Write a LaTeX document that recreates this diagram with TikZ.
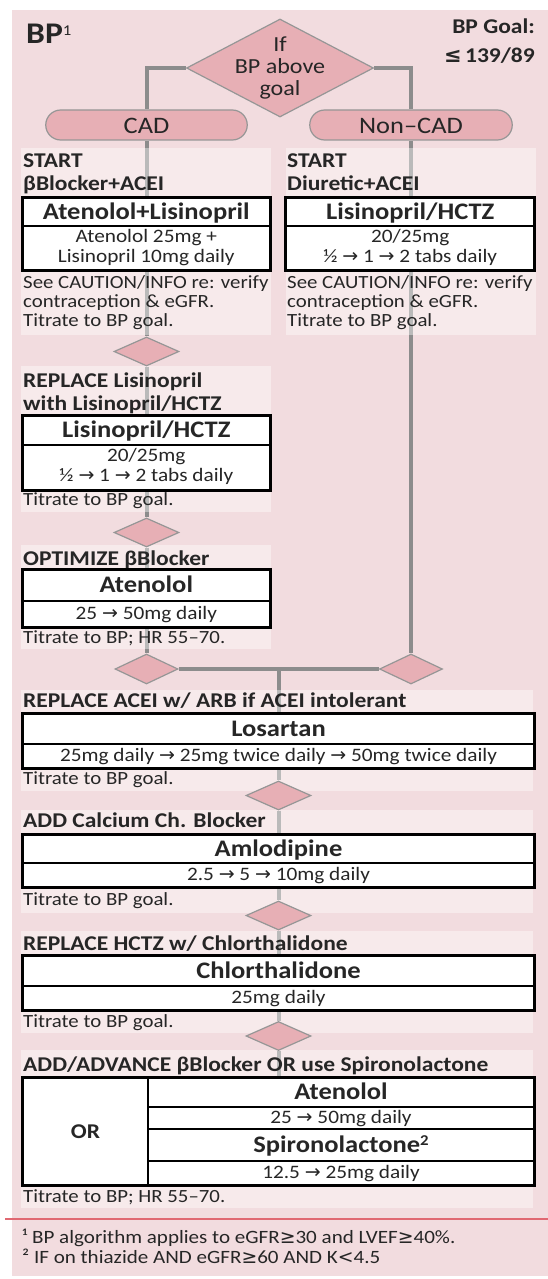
\documentclass[tikz,border=0pt]{standalone}
\usepackage{fontspec}
\setmainfont{Carlito}[FakeStretch=1.12]
\newfontfamily\symf{DejaVu Sans}
\usetikzlibrary{shapes.geometric,fit}
\newcommand{\fsz}[2]{\fontsize{#1}{#2}\selectfont}
\newcommand{\mlin}[1]{\begin{tabular}[t]{@{}l@{}}#1\end{tabular}}
\newcommand{\mcen}[1]{\begin{tabular}{@{}c@{}}#1\end{tabular}}
\newcommand{\mcentt}[1]{\begin{tabular}[t]{@{}c@{}}#1\end{tabular}}
\newcommand{\rarr}{{\symf\char"2192}}
\newcommand{\geqs}{{\symf\char"2265}}
\newcommand{\leqs}{{\symf\char"2264}}
\newcommand{\lts}{{\symf\char"003C}}
\definecolor{bgpink}{RGB}{242,220,223}
\definecolor{dfill}{RGB}{231,175,181}
\definecolor{dgray}{RGB}{150,150,150}
\definecolor{cgray}{RGB}{140,140,140}
\definecolor{tcol}{RGB}{38,38,38}
\definecolor{redl}{RGB}{224,104,114}
\pgfdeclarelayer{bg}
\pgfdeclarelayer{lines}
\pgfdeclarelayer{panels}
\pgfsetlayers{bg,lines,panels,main}
\tikzset{
  conn/.style={line width=4pt, draw=cgray},
  panel/.style={fill=white, fill opacity=0.4},
  dia/.style={diamond, draw=dgray, line width=1.2pt, fill=dfill, inner sep=0pt, minimum width=65pt, minimum height=29pt},
  pill/.style={rectangle, rounded corners=15pt, draw=dgray, line width=1.2pt, fill=dfill, minimum height=30pt, inner sep=0pt, text=tcol, font=\fsz{23.6}{26}, text height=16pt, text depth=0pt},
  hdr/.style={rectangle, draw=black, line width=1.2pt, fill=white, text=tcol, font=\bfseries\fsz{23.7}{26}, text height=15pt, text depth=1pt, inner sep=0pt},
  cell/.style={rectangle, draw=black, line width=1.2pt, fill=white, text=tcol, font=\fsz{19}{20}, inner sep=0pt},
  cellone/.style={cell, text height=12pt, text depth=1pt},
  frame/.style={draw=black, line width=2.8pt, inner sep=0pt},
  ttl/.style={anchor=base west, inner sep=0pt, text=tcol, font=\bfseries\fsz{21}{23}},
  body/.style={anchor=base west, inner sep=0pt, text=tcol, font=\fsz{18.6}{19}},
  foot/.style={anchor=base west, inner sep=0pt, text=tcol, font=\fsz{18.8}{20}},
}
\begin{document}
\begin{tikzpicture}[x=1pt,y=-1pt]
\useasboundingbox (0,0) rectangle (548,1279);
\begin{pgfonlayer}{bg}
\fill[white] (0,0) rectangle (548,1279);
\fill[bgpink] (11.5,10) rectangle (548,1276);
\end{pgfonlayer}
% panels
\begin{pgfonlayer}{panels}
\fill[panel] (21,148) rectangle (270.5,335);
\fill[panel] (286,148) rectangle (536,335);
\fill[panel] (21,366) rectangle (270.5,512);
\fill[panel] (21,545) rectangle (270.5,649);
\fill[panel] (21,690) rectangle (533,791);
\fill[panel] (21,810) rectangle (533,913);
\fill[panel] (21,931) rectangle (533,1033);
\fill[panel] (21,1050) rectangle (533,1208);
\end{pgfonlayer}
% header
\node[anchor=base west, inner sep=0pt, text=tcol, font=\bfseries\fsz{30}{32}] (bp) at (26,44) {BP\raisebox{8pt}{\fsz{15}{15}\mdseries 1}};
\node[anchor=base east, inner sep=0pt, text=tcol, font=\bfseries\fsz{21}{24}] (goal1) at (535,34) {BP Goal:};
\node[anchor=base east, inner sep=0pt, text=tcol, font=\bfseries\fsz{21}{24}] (goal2) at (535,63) {\leqs\,139/89};
% main decision
\node[dia, minimum width=187pt, minimum height=98pt] (mainD) at (280,68) {};
\node[anchor=base, inner sep=0pt, text=tcol, font=\fsz{21.5}{22}] (mainT) at (280,52) {\mcentt{If\\BP above\\goal}};
\node[pill, minimum width=201.5pt] (cad) at (146.5,125) {CAD};
\node[pill, minimum width=202.5pt] (ncad) at (411,125) {Non--CAD};
% left column
\node[ttl] (t1) at (23,167) {\mlin{START\\βBlocker+ACEI}};
\node[hdr, minimum width=246.6pt, minimum height=28pt] (b1h) at (146.3,212) {Atenolol+Lisinopril};
\node[cell, minimum width=246.6pt, minimum height=44pt] (b1r) at (146.3,248) {\mcen{Atenolol 25mg +\\Lisinopril 10mg daily}};
\node[frame, fit=(b1h)(b1r)] (b1) {};
\node[body] (n1) at (23,288) {\mlin{See CAUTION/INFO re: verify\\contraception \& eGFR.\\Titrate to BP goal.}};
% right column
\node[ttl] (t1r) at (287,167) {\mlin{START\\Diuretic+ACEI}};
\node[hdr, minimum width=247.6pt, minimum height=28pt] (b1Rh) at (410.2,212) {Lisinopril/HCTZ};
\node[cell, minimum width=247.6pt, minimum height=44pt] (b1Rr) at (410.2,248) {\mcen{20/25mg\\½ \rarr\ 1 \rarr\ 2 tabs daily}};
\node[frame, fit=(b1Rh)(b1Rr)] (b1R) {};
\node[body] (n1r) at (287,288) {\mlin{See CAUTION/INFO re: verify\\contraception \& eGFR.\\Titrate to BP goal.}};
% step 2 left
\node[dia] (d1) at (146.5,351.5) {};
\node[ttl] (t2) at (23,387) {\mlin{REPLACE Lisinopril\\with Lisinopril/HCTZ}};
\node[hdr, minimum width=246.6pt, minimum height=29pt] (b2h) at (146.3,430.5) {Lisinopril/HCTZ};
\node[cell, minimum width=246.6pt, minimum height=45pt] (b2r) at (146.3,467.5) {\mcen{20/25mg\\½ \rarr\ 1 \rarr\ 2 tabs daily}};
\node[frame, fit=(b2h)(b2r)] (b2) {};
\node[body] (n2) at (23,505) {Titrate to BP goal.};
% step 3 left
\node[dia] (d2) at (146.5,532.5) {};
\node[ttl] (t3) at (23,565) {OPTIMIZE βBlocker};
\node[hdr, minimum width=246.6pt, minimum height=31pt] (b3h) at (146.3,585.5) {Atenolol};
\node[cellone, minimum width=246.6pt, minimum height=26pt] (b3r) at (146.3,614) {25 \rarr\ 50mg daily};
\node[frame, fit=(b3h)(b3r)] (b3) {};
\node[body] (n3) at (23,643) {Titrate to BP; HR 55--70.};
% merge
\node[dia, minimum width=63pt, minimum height=30pt] (dL) at (146.5,669) {};
\node[dia, minimum width=63pt, minimum height=30pt] (dR) at (411,669) {};
\coordinate (jn) at (278.5,669);
% step 4
\node[ttl] (t4) at (23,707) {REPLACE ACEI w/ ARB if ACEI intolerant};
\node[hdr, minimum width=511pt, minimum height=30pt] (b4h) at (278.5,729) {Losartan};
\node[cellone, minimum width=511pt, minimum height=24pt] (b4r) at (278.5,756) {25mg daily \rarr\ 25mg twice daily \rarr\ 50mg twice daily};
\node[frame, fit=(b4h)(b4r)] (b4) {};
\node[body] (n4) at (23,784) {Titrate to BP goal.};
\node[dia] (d3) at (278.5,795.5) {};
% step 5
\node[ttl] (t5) at (23,827) {ADD Calcium Ch. Blocker};
\node[hdr, minimum width=511pt, minimum height=28pt] (b5h) at (278.5,849) {Amlodipine};
\node[cellone, minimum width=511pt, minimum height=24pt] (b5r) at (278.5,875) {2.5 \rarr\ 5 \rarr\ 10mg daily};
\node[frame, fit=(b5h)(b5r)] (b5) {};
\node[body] (n5) at (23,905) {Titrate to BP goal.};
\node[dia] (d4) at (278.5,915.5) {};
% step 6
\node[ttl] (t6) at (23,950) {REPLACE HCTZ w/ Chlorthalidone};
\node[hdr, minimum width=511pt, minimum height=30pt] (b6h) at (278.5,971) {Chlorthalidone};
\node[cellone, minimum width=511pt, minimum height=24pt] (b6r) at (278.5,998) {25mg daily};
\node[frame, fit=(b6h)(b6r)] (b6) {};
\node[body] (n6) at (23,1027) {Titrate to BP goal.};
\node[dia] (d5) at (278.5,1036) {};
% step 7
\node[ttl] (t7) at (23,1071) {ADD/ADVANCE βBlocker OR use Spironolactone};
\node[cell, minimum width=125pt, minimum height=107pt, font=\bfseries\fsz{21}{23}, text height=13pt, text depth=0pt] (b7or) at (85.5,1131.5) {OR};
\node[hdr, minimum width=386pt, minimum height=29pt] (b7a) at (341,1092.5) {Atenolol};
\node[cellone, minimum width=386pt, minimum height=22pt] (b7ar) at (341,1118) {25 \rarr\ 50mg daily};
\node[hdr, minimum width=386pt, minimum height=32pt] (b7s) at (341,1145) {Spironolactone\raisebox{7pt}{\fsz{15}{15}2}};
\node[cellone, minimum width=386pt, minimum height=24pt] (b7sr) at (341,1173) {12.5 \rarr\ 25mg daily};
\node[frame, fit=(b7or)(b7a)(b7sr)] (b7) {};
\node[body] (n7) at (23,1202) {Titrate to BP; HR 55--70.};
% footnotes
\draw[redl, line width=1.5pt] (5,1219) -- (548,1219);
\node[foot] (fn1) at (22,1243) {¹ BP algorithm applies to eGFR\geqs30 and LVEF\geqs40\%.};
\node[foot] (fn2) at (22,1263) {² IF on thiazide AND eGFR\geqs60 AND K\lts4.5};
% connectors
\begin{pgfonlayer}{lines}
\draw[conn] (mainD.west) -| (cad.north);
\draw[conn] (mainD.east) -| (ncad.north);
\draw[conn] (cad.south) -- (d1.north);
\draw[conn] (d1.south) -- (d2.north);
\draw[conn] (d2.south) -- (dL.north);
\draw[conn] (ncad.south) -- (dR.north);
\draw[conn] (dL.east) -- (dR.west);
\draw[conn] (jn) -- (d3.north);
\draw[conn] (d3.south) -- (d4.north);
\draw[conn] (d4.south) -- (d5.north);
\draw[conn] (d5.south) -- (b7.north);
\end{pgfonlayer}
\end{tikzpicture}
\end{document}
